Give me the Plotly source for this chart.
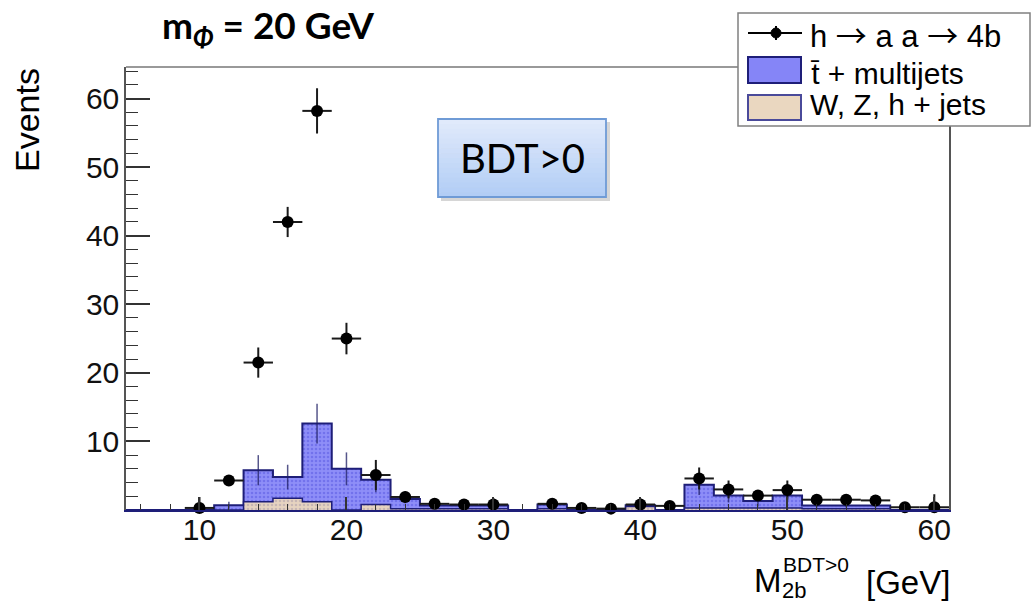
import plotly.graph_objects as go

# 2 GeV bins from 5 to 61 GeV
bin_edges = list(range(5, 62, 2))
bin_centers = [e + 1 for e in bin_edges[:-1]]  # 6, 8, ..., 60

# background expectations per bin (events)
ttbar_multijets = [0, 0, 0, 0.7, 4.6, 3.1, 11.4, 6.0, 3.6, 1.4, 0.45, 0.45, 0.45, 0,
                   0.6, 0, 0, 0.2, 0, 3.4, 1.8, 1.0, 1.8, 0.45, 0.45, 0.45, 0, 0]
wzh_jets = [0, 0, 0, 0, 1.2, 1.7, 1.2, 0, 0.8, 0.2, 0.2, 0.2, 0.2, 0,
            0.2, 0, 0, 0.5, 0, 0.3, 0.3, 0.3, 0.3, 0.2, 0.2, 0.2, 0, 0]
mc_stat_err = [None, None, None, 0.5, 2.2, 1.8, 2.9, 2.4, 1.8, 0.6, 0.3, 0.3, 0.3, None,
               0.3, None, None, 0.3, None, 1.5, 1.0, 0.8, 1.0, 0.3, 0.3, 0.3, None, None]

# h -> aa -> 4b signal (points with errors)
signal = [None, None, 0.3, 4.3, 21.5, 42.0, 58.2, 25.0, 5.1, 1.9, 0.9, 0.8, 0.8, None,
          0.9, 0.3, 0.2, 0.8, 0.6, 4.6, 3.0, 2.1, 2.9, 1.5, 1.5, 1.4, 0.4, 0.4]
signal_err = [None, None, 1.6, 0.6, 2.2, 2.2, 3.3, 2.3, 2.2, 0.8, 0.5, 0.5, 0.9, None,
              0.5, 0.3, 0.3, 0.9, 0.3, 1.6, 1.3, 0.8, 1.4, 0.5, 0.5, 0.5, 0.3, 1.9]

x_ticks = [10, 20, 30, 40, 50, 60]
y_ticks = [10, 20, 30, 40, 50, 60]

# plot frame geometry (pixels)
W, H = 1031, 603
L, R, T, B = 126, 82, 67, 93
PW, PH = W - L - R, H - T - B


def px(x):
    return (x - L) / PW


def py(y):
    return (H - B - y) / PH


stack_total = [a + b for a, b in zip(ttbar_multijets, wzh_jets)]


def step(vals):
    return bin_edges, list(vals) + [vals[-1]]


NAVY = "#1e1e78"
fig = go.Figure()

sx, sy = step(stack_total)
fig.add_trace(go.Scatter(
    x=sx, y=sy, mode="lines", line=dict(shape="hv", color=NAVY, width=2),
    fill="tozeroy",
    fillpattern=dict(shape=".", bgcolor="#8e8ef8", fgcolor="#5656e0", size=4, solidity=0.35),
    name="t̄ + multijets", showlegend=False, hoverinfo="skip"))

sx, sy = step(wzh_jets)
fig.add_trace(go.Scatter(
    x=sx, y=sy, mode="lines", line=dict(shape="hv", color=NAVY, width=1.5),
    fill="tozeroy",
    fillpattern=dict(shape=".", bgcolor="#e6d3c0", fgcolor="#a89aa8", size=4, solidity=0.35),
    name="W, Z, h + jets", showlegend=False, hoverinfo="skip"))

# background statistical uncertainty
mc_x = [c for c, e in zip(bin_centers, mc_stat_err) if e is not None]
mc_y = [t for t, e in zip(stack_total, mc_stat_err) if e is not None]
mc_e = [e for e in mc_stat_err if e is not None]
fig.add_trace(go.Scatter(
    x=mc_x, y=mc_y, mode="markers", marker=dict(size=1, color="rgba(0,0,0,0)"),
    error_y=dict(type="data", array=mc_e, color="rgba(30,30,100,0.75)", thickness=1.5, width=0),
    showlegend=False, hoverinfo="skip"))

# signal points
err_lo = [None if v is None else min(e, v) for v, e in zip(signal, signal_err)]
fig.add_trace(go.Scatter(
    x=bin_centers, y=signal, mode="markers",
    marker=dict(size=12, color="black"),
    error_y=dict(type="data", array=signal_err, arrayminus=err_lo, color="#1a1a1a",
                 thickness=2, width=0),
    error_x=dict(type="constant", value=1, color="#1a1a1a", thickness=2, width=0),
    name="h → a a → 4b", showlegend=False, cliponaxis=False))

tick_font = dict(family="Liberation Sans, Arial, sans-serif", size=30, color="#111")

fig.update_layout(
    width=W, height=H, margin=dict(l=L, r=R, t=T, b=B),
    paper_bgcolor="white", plot_bgcolor="white", showlegend=False,
    xaxis=dict(range=[5, 61], tickmode="array", tickvals=x_ticks,
               ticks="inside", ticklen=13, tickwidth=1.5, tickcolor="#333",
               minor=dict(tickmode="linear", tick0=0, dtick=2, ticks="inside",
                          ticklen=6.5, tickwidth=1.2, tickcolor="#333"),
               showline=True, linecolor=NAVY, linewidth=2, mirror=False,
               showgrid=False, zeroline=False, tickfont=tick_font,
               ticklabelstandoff=-8),
    yaxis=dict(range=[0, 64.6], tickmode="array", tickvals=y_ticks,
               ticks="inside", ticklen=24, tickwidth=1.5, tickcolor="#333",
               minor=dict(tickmode="linear", tick0=0, dtick=2, ticks="inside",
                          ticklen=12, tickwidth=1.2, tickcolor="#333"),
               showline=True, linecolor="#555", linewidth=1.5, mirror=True,
               showgrid=False, zeroline=False, tickfont=tick_font,
               ticklabelstandoff=-1),
)

shapes = []
# top frame edge
shapes.append(dict(type="line", xref="paper", yref="paper", x0=0, x1=1, y0=1, y1=1,
                   line=dict(color="#777", width=1.5)))

# BDT>0 label box with shadow and vertical gradient
bx0, bx1, by0, by1 = 438, 606, 119, 197
shapes.append(dict(type="rect", xref="paper", yref="paper",
                   x0=px(bx0 + 3), x1=px(bx1 + 4), y0=py(by0 + 3), y1=py(by1 + 4),
                   fillcolor="rgba(0,0,0,0.16)", line=dict(width=0), layer="above"))
n_strips = 16
top_c, bot_c = (226, 235, 251), (176, 204, 245)
for i in range(n_strips):
    f = (i + 0.5) / n_strips
    c = tuple(int(round(top_c[k] + (bot_c[k] - top_c[k]) * f)) for k in range(3))
    ya = by0 + (by1 - by0) * i / n_strips
    yb = by0 + (by1 - by0) * (i + 1) / n_strips
    shapes.append(dict(type="rect", xref="paper", yref="paper",
                       x0=px(bx0), x1=px(bx1), y0=py(ya), y1=py(yb + 0.6),
                       fillcolor="rgb(%d,%d,%d)" % c, line=dict(width=0), layer="above"))
shapes.append(dict(type="rect", xref="paper", yref="paper",
                   x0=px(bx0), x1=px(bx1), y0=py(by0), y1=py(by1),
                   fillcolor="rgba(0,0,0,0)", line=dict(color="#6f9bd6", width=1.8),
                   layer="above"))

# legend box
shapes.append(dict(type="rect", xref="paper", yref="paper",
                   x0=px(738), x1=px(1030), y0=py(13), y1=py(126),
                   fillcolor="white", line=dict(color="#808080", width=1.5), layer="above"))
# signal entry symbol
shapes.append(dict(type="line", xref="paper", yref="paper", x0=px(748), x1=px(802),
                   y0=py(33), y1=py(33), line=dict(color="black", width=2), layer="above"))
shapes.append(dict(type="line", xref="paper", yref="paper", x0=px(776), x1=px(776),
                   y0=py(26), y1=py(40), line=dict(color="black", width=2), layer="above"))
shapes.append(dict(type="circle", xref="paper", yref="paper", x0=px(771), x1=px(781),
                   y0=py(28), y1=py(38), fillcolor="black", line=dict(color="black", width=1),
                   layer="above"))
# background entry swatches
shapes.append(dict(type="rect", xref="paper", yref="paper", x0=px(748), x1=px(801),
                   y0=py(57), y1=py(83), fillcolor="#8585f7", line=dict(color=NAVY, width=2),
                   layer="above"))
shapes.append(dict(type="rect", xref="paper", yref="paper", x0=px(748), x1=px(801),
                   y0=py(95), y1=py(120), fillcolor="#ead7c0", line=dict(color="#4a4a9a", width=2),
                   layer="above"))
fig.update_layout(shapes=shapes)

SANS = "Liberation Sans, Arial, sans-serif"
ann = []


def text(s, x, y, size, family=SANS, xanchor="left", yanchor="middle", angle=0, color="black"):
    ann.append(dict(text=s, x=px(x), y=py(y), xref="paper", yref="paper",
                    xanchor=xanchor, yanchor=yanchor, showarrow=False, textangle=angle,
                    font=dict(family=family, size=size, color=color)))


ARROW = "<span style=\"font-family:'Noto Sans CJK SC'\">→</span>"

# title
text("<b>m<sub><i>Φ</i></sub> = 20 GeV</b>", 160, 0, 37, family="Lato, Open Sans, sans-serif",
     yanchor="top")
# box label
text("BDT>0", (bx0 + bx1) / 2, (by0 + by1) / 2, 40, family="Lato, Open Sans, sans-serif",
     xanchor="center")
# axis titles
text("Events", 27, 120, 34, angle=-90, xanchor="center")
text("M", 752, 580, 33)
text("BDT>0", 781, 564, 21)
text("2b", 780, 590, 22)
text("[GeV]", 864, 582, 33)
# legend labels
text("h " + ARROW + " a a " + ARROW + " 4b", 808, 33, 31)
text("t̄ + multijets", 808, 73, 30)
text("W, Z, h + jets", 808, 104, 30)
fig.update_layout(annotations=ann)

fig.write_html("out.html")
